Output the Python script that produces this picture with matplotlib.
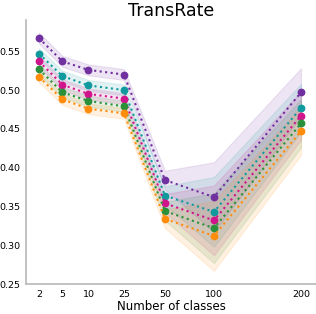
import numpy as np
import matplotlib
matplotlib.use("Agg")
import matplotlib.pyplot as plt

# number of classes on the x axis
classes = [2, 5, 10, 25, 50, 100, 200]
# axis spacing used in the figure (uneven)
axis_anchor_classes = [0, 2, 5, 10, 25, 50, 100, 200, 250]
axis_anchor_pos = [23.3, 39, 62.5, 88.5, 124, 165, 214, 301, 344.5]

# mean TransRate per series (top to bottom)
purple = [0.567, 0.537, 0.526, 0.520, 0.384, 0.362, 0.497]
teal = [0.547, 0.518, 0.506, 0.500, 0.364, 0.343, 0.477]
magenta = [0.537, 0.507, 0.495, 0.489, 0.354, 0.332, 0.467]
green = [0.527, 0.497, 0.486, 0.479, 0.344, 0.322, 0.457]
orange = [0.517, 0.488, 0.476, 0.470, 0.334, 0.312, 0.447]
# spread of the shaded band
spread = [0.007, 0.007, 0.007, 0.007, 0.012, 0.045, 0.031]

series = [purple, teal, magenta, green, orange]
colors = ['#7030a0', '#119a9e', '#d0158c', '#2a913a', '#ff8c0a']


def fwd(x):
    return np.interp(x, axis_anchor_classes, axis_anchor_pos)


def inv(y):
    return np.interp(y, axis_anchor_pos, axis_anchor_classes)


fig = plt.figure(figsize=(3.16, 3.14), dpi=100)
ax = fig.add_axes([0.082, 0.0955, 0.918, 0.84])
ax.set_xscale('function', functions=(fwd, inv))

x = np.array(classes)
sd = np.array(spread)
for vals, c in zip(series, colors):
    v = np.array(vals)
    ax.fill_between(x, v - sd, v + sd, color=c, alpha=0.12, linewidth=0.8)
    ax.plot(x, v, linestyle=':', color=c, linewidth=1.5, marker='o',
            markersize=4.6)

ax.set_xlim(inv(26), inv(316))
ax.set_ylim(0.25, 0.59)
ax.set_xticks(classes)
ax.set_xticklabels([str(c) for c in classes])
ax.set_yticks([0.25, 0.30, 0.35, 0.40, 0.45, 0.50, 0.55])
ax.minorticks_off()
ax.tick_params(length=0, labelsize=6.8, pad=4)
for s in ['top', 'right']:
    ax.spines[s].set_visible(False)
for s in ['left', 'bottom']:
    ax.spines[s].set_color('0.72')
    ax.spines[s].set_linewidth(1.2)
ax.set_xlabel('Number of classes', fontsize=8.5, labelpad=1)
ax.set_title('TransRate', fontsize=12.5, pad=3)

fig.savefig('out.png', dpi=100)
